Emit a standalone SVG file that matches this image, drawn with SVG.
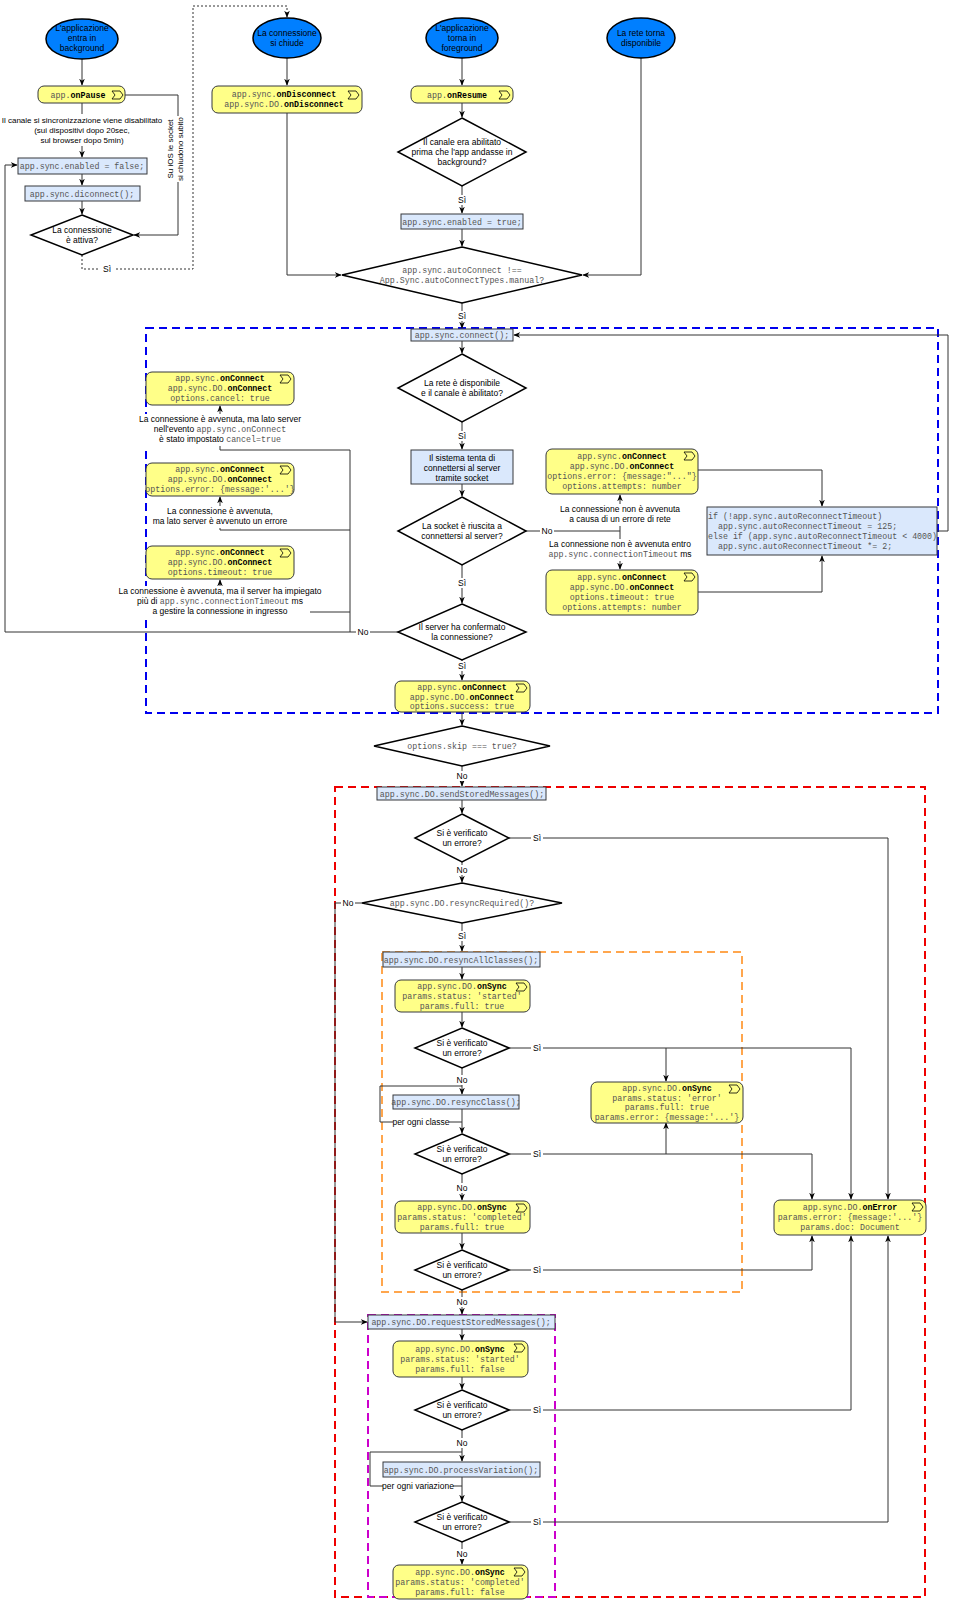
<svg xmlns="http://www.w3.org/2000/svg" width="956" height="1600" viewBox="0 0 956 1600">
<style>
.s{font-family:"Liberation Sans",Arial,sans-serif;font-size:8.5px;fill:#000}
.m{font-family:"Liberation Mono","Courier New",monospace;font-size:8.3px;fill:#555}
.b{font-weight:bold;fill:#000}
.y{fill:#ffff88;stroke:#36393d;stroke-width:1}
.bl{fill:#dae8fc;stroke:#36393d;stroke-width:1}
.el{fill:#007fff;stroke:#000;stroke-width:1.5}
.d{fill:#fff;stroke:#000;stroke-width:1.5}
.c{fill:none;stroke:#333;stroke-width:1}
.lb{fill:#fff}
</style>
<defs>
<marker id="a" viewBox="0 0 10 10" refX="9" refY="5" markerWidth="7" markerHeight="7" orient="auto"><path d="M0,1 L10,5 L0,9 L3,5z" fill="#000"/></marker>
<g id="ev"><path d="M0,0 h8 l3,4 l-3,4 h-8 l3,-4z" fill="none" stroke="#000" stroke-width="0.8"/></g>
</defs>
<rect width="956" height="1600" fill="#fff"/>
<rect x="146" y="328" width="792" height="385" fill="none" stroke="#0000ee" stroke-width="2" stroke-dasharray="8,5"/>
<rect x="335" y="787" width="590" height="810" fill="none" stroke="#ee0000" stroke-width="2" stroke-dasharray="8,5"/>
<rect x="382" y="952" width="360" height="340" fill="none" stroke="#ffa64d" stroke-width="2" stroke-dasharray="8,5"/>
<rect x="368" y="1315" width="187" height="282" fill="none" stroke="#cc00cc" stroke-width="2" stroke-dasharray="8,5"/>
<g id="connectors">
<path class="c" d="M82,59 V85" marker-end="url(#a)"/>
<path class="c" d="M82,103 V116 M82,145 V157" marker-end="url(#a)"/>
<path class="c" d="M82,174 V185" marker-end="url(#a)"/>
<path class="c" d="M82,201 V214" marker-end="url(#a)"/>
<path class="c" d="M125,95 H178 V235 H134" marker-end="url(#a)"/>
<path class="c" d="M82,255 V269 H193 V6 H287 V17" stroke-dasharray="2,2" marker-end="url(#a)"/>
<path class="c" d="M287,58 V85" marker-end="url(#a)"/>
<path class="c" d="M287,113 V275 H341" marker-end="url(#a)"/>
<path class="c" d="M641,58 V275 H583" marker-end="url(#a)"/>
<path class="c" d="M462,58 V85" marker-end="url(#a)"/>
<path class="c" d="M462,103 V117" marker-end="url(#a)"/>
<path class="c" d="M462,186 V213" marker-end="url(#a)"/>
<path class="c" d="M462,229 V246" marker-end="url(#a)"/>
<path class="c" d="M462,303 V328" marker-end="url(#a)"/>
<path class="c" d="M462,341 V353" marker-end="url(#a)"/>
<path class="c" d="M462,422 V449" marker-end="url(#a)"/>
<path class="c" d="M462,484 V496" marker-end="url(#a)"/>
<path class="c" d="M462,565 V603" marker-end="url(#a)"/>
<path class="c" d="M462,660 V680" marker-end="url(#a)"/>
<path class="c" d="M462,712 V725" marker-end="url(#a)"/>
<path class="c" d="M462,766 V786" marker-end="url(#a)"/>
<path class="c" d="M398,632 H5 V165 H17" marker-end="url(#a)"/>
<path class="c" d="M350,632 V450 H220 V406" marker-end="url(#a)"/>
<path class="c" d="M350,530 H220 V497" marker-end="url(#a)"/>
<path class="c" d="M350,612 H220 V580" marker-end="url(#a)"/>
<path class="c" d="M526,531 H620"/>
<path class="c" d="M620,517 V495" marker-end="url(#a)"/>
<path class="c" d="M620,555 V569" marker-end="url(#a)"/>
<path class="c" d="M620,505 V545"/>
<path class="c" d="M698,470 H822 V506" marker-end="url(#a)"/>
<path class="c" d="M698,592 H822 V556" marker-end="url(#a)"/>
<path class="c" d="M937,531 H948 V335 H514" marker-end="url(#a)"/>
<path class="c" d="M462,800 V813" marker-end="url(#a)"/>
<path class="c" d="M509,838 H888 V1199" marker-end="url(#a)"/>
<path class="c" d="M462,862 V882" marker-end="url(#a)"/>
<path class="c" d="M362,903 H335 V1322 H367" marker-end="url(#a)"/>
<path class="c" d="M462,923 V951" marker-end="url(#a)"/>
<path class="c" d="M462,967 V979" marker-end="url(#a)"/>
<path class="c" d="M462,1012 V1027" marker-end="url(#a)"/>
<path class="c" d="M509,1048 H851 V1199" marker-end="url(#a)"/>
<path class="c" d="M666,1048 V1081" marker-end="url(#a)"/>
<path class="c" d="M462,1068 V1094" marker-end="url(#a)"/>
<path class="c" d="M462,1109 V1122 H380 V1086 H462" />
<path class="c" d="M462,1122 V1133" marker-end="url(#a)"/>
<path class="c" d="M509,1154 H812 V1199" marker-end="url(#a)"/>
<path class="c" d="M666,1154 V1123" marker-end="url(#a)"/>
<path class="c" d="M462,1174 V1200" marker-end="url(#a)"/>
<path class="c" d="M462,1233 V1249" marker-end="url(#a)"/>
<path class="c" d="M509,1270 H812 V1236" marker-end="url(#a)"/>
<path class="c" d="M462,1290 V1314" marker-end="url(#a)"/>
<path class="c" d="M462,1329 V1340" marker-end="url(#a)"/>
<path class="c" d="M462,1377 V1389" marker-end="url(#a)"/>
<path class="c" d="M509,1410 H851 V1236" marker-end="url(#a)"/>
<path class="c" d="M462,1430 V1461" marker-end="url(#a)"/>
<path class="c" d="M462,1477 V1486 H370 V1452 H462"/>
<path class="c" d="M462,1486 V1501" marker-end="url(#a)"/>
<path class="c" d="M509,1522 H888 V1236" marker-end="url(#a)"/>
<path class="c" d="M462,1542 V1564" marker-end="url(#a)"/>
</g>
<g class="s" text-anchor="middle">
<rect class="lb" x="100" y="264" width="14" height="10"/><text x="107" y="272">Sì</text>
<rect class="lb" x="456" y="195" width="12" height="10"/><text x="462" y="203">Sì</text>
<rect class="lb" x="456" y="311" width="12" height="10"/><text x="462" y="319">Sì</text>
<rect class="lb" x="456" y="431" width="12" height="10"/><text x="462" y="439">Sì</text>
<rect class="lb" x="456" y="578" width="12" height="10"/><text x="462" y="586">Sì</text>
<rect class="lb" x="456" y="661" width="12" height="10"/><text x="462" y="669">Sì</text>
<rect class="lb" x="356" y="627" width="14" height="10"/><text x="363" y="635">No</text>
<rect class="lb" x="540" y="526" width="14" height="10"/><text x="547" y="534">No</text>
<rect class="lb" x="455" y="771" width="14" height="10"/><text x="462" y="779">No</text>
<rect class="lb" x="531" y="833" width="12" height="10"/><text x="537" y="841">Sì</text>
<rect class="lb" x="455" y="865" width="14" height="10"/><text x="462" y="873">No</text>
<rect class="lb" x="341" y="898" width="14" height="10"/><text x="348" y="906">No</text>
<rect class="lb" x="456" y="931" width="12" height="10"/><text x="462" y="939">Sì</text>
<rect class="lb" x="531" y="1043" width="12" height="10"/><text x="537" y="1051">Sì</text>
<rect class="lb" x="455" y="1075" width="14" height="10"/><text x="462" y="1083">No</text>
<rect class="lb" x="393" y="1117" width="56" height="10"/><text x="421" y="1125">per ogni classe</text>
<rect class="lb" x="531" y="1149" width="12" height="10"/><text x="537" y="1157">Sì</text>
<rect class="lb" x="455" y="1183" width="14" height="10"/><text x="462" y="1191">No</text>
<rect class="lb" x="531" y="1265" width="12" height="10"/><text x="537" y="1273">Sì</text>
<rect class="lb" x="455" y="1297" width="14" height="10"/><text x="462" y="1305">No</text>
<rect class="lb" x="531" y="1405" width="12" height="10"/><text x="537" y="1413">Sì</text>
<rect class="lb" x="455" y="1438" width="14" height="10"/><text x="462" y="1446">No</text>
<rect class="lb" x="383" y="1481" width="70" height="10"/><text x="418" y="1489">per ogni variazione</text>
<rect class="lb" x="531" y="1517" width="12" height="10"/><text x="537" y="1525">Sì</text>
<rect class="lb" x="455" y="1549" width="14" height="10"/><text x="462" y="1557">No</text>
<rect class="lb" x="0" y="114" width="164" height="32"/>
<text x="82" y="123" font-size="8">Il canale si sincronizzazione viene disabilitato</text>
<text x="82" y="133" font-size="8">(sui dispositivi dopo 20sec,</text>
<text x="82" y="143" font-size="8">sul browser dopo 5min)</text>
<rect class="lb" x="165" y="116" width="22" height="66"/>
<text font-size="8" transform="translate(173,149) rotate(-90)">Su iOS le socket</text>
<text font-size="8" transform="translate(183,149) rotate(-90)">si chiudono subito</text>
<rect class="lb" x="145" y="414" width="150" height="32"/>
<text x="220" y="422">La connessione è avvenuta, ma lato server</text>
<text x="220" y="432">nell'evento <tspan class="m">app.sync.onConnect</tspan></text>
<text x="220" y="442">è stato impostato <tspan class="m">cancel=true</tspan></text>
<rect class="lb" x="160" y="506" width="120" height="22"/>
<text x="220" y="514">La connessione è avvenuta,</text>
<text x="220" y="524">ma lato server è avvenuto un errore</text>
<rect class="lb" x="130" y="586" width="180" height="32"/>
<text x="220" y="594">La connessione è avvenuta, ma il server ha impiegato</text>
<text x="220" y="604">più di <tspan class="m">app.sync.connectionTimeout</tspan> ms</text>
<text x="220" y="614">a gestire la connessione in ingresso</text>
<rect class="lb" x="565" y="504" width="110" height="22"/>
<text x="620" y="512">La connessione non è avvenuta</text>
<text x="620" y="522">a causa di un errore di rete</text>
<rect class="lb" x="555" y="539" width="130" height="22"/>
<text x="620" y="547">La connessione non è avvenuta entro</text>
<text x="620" y="557"><tspan class="m">app.sync.connectionTimeout</tspan> ms</text>
</g>
<g id="n-bg"><ellipse class="el" cx="82" cy="39" rx="36" ry="20"/><text class="s" text-anchor="middle" x="82" y="31">L'applicazione<tspan x="82" dy="10">entra in</tspan><tspan x="82" dy="10">background</tspan></text></g>
<g id="n-close"><ellipse class="el" cx="287" cy="38" rx="34" ry="20"/><text class="s" text-anchor="middle" x="287" y="36">La connessione<tspan x="287" dy="10">si chiude</tspan></text></g>
<g id="n-fg"><ellipse class="el" cx="462" cy="38" rx="36" ry="20"/><text class="s" text-anchor="middle" x="462" y="31">L'applicazione<tspan x="462" dy="10">torna in</tspan><tspan x="462" dy="10">foreground</tspan></text></g>
<g id="n-net"><ellipse class="el" cx="641" cy="38" rx="34" ry="20"/><text class="s" text-anchor="middle" x="641" y="36">La rete torna<tspan x="641" dy="10">disponibile</tspan></text></g>
<g id="n-pause"><rect class="y" x="38" y="86" width="87" height="17" rx="6"/><text class="m" text-anchor="middle" x="78" y="97.5">app.<tspan class="b">onPause</tspan></text><use href="#ev" x="112" y="91"/></g>
<g id="n-disf"><rect class="bl" x="18" y="158" width="129" height="16"/><text class="m" text-anchor="middle" x="82" y="169">app.sync.enabled = false;</text></g>
<g id="n-disc"><rect class="bl" x="25" y="186" width="115" height="15"/><text class="m" text-anchor="middle" x="82" y="196.5">app.sync.diconnect();</text></g>
<g id="n-att"><polygon class="d" points="82,215 133,235 82,255 31,235"/><text class="s" text-anchor="middle" x="82" y="233">La connessione<tspan x="82" dy="10">è attiva?</tspan></text></g>
<g id="n-ondis"><rect class="y" x="212" y="86" width="150" height="27" rx="6"/><text class="m" text-anchor="middle" x="284" y="97">app.sync.<tspan class="b">onDisconnect</tspan><tspan x="284" dy="10">app.sync.DO.</tspan><tspan class="b">onDisconnect</tspan></text><use href="#ev" x="348" y="91"/></g>
<g id="n-res"><rect class="y" x="411" y="86" width="102" height="17" rx="6"/><text class="m" text-anchor="middle" x="457" y="97.5">app.<tspan class="b">onResume</tspan></text><use href="#ev" x="499" y="91"/></g>
<g id="n-era"><polygon class="d" points="462,118 526,152 462,186 398,152"/><text class="s" text-anchor="middle" x="462" y="145">Il canale era abilitato<tspan x="462" dy="10">prima che l'app andasse in</tspan><tspan x="462" dy="10">background?</tspan></text></g>
<g id="n-ent"><rect class="bl" x="401" y="214" width="122" height="15"/><text class="m" text-anchor="middle" x="462" y="224.5">app.sync.enabled = true;</text></g>
<g id="n-auto"><polygon class="d" points="462,247 582,275 462,303 342,275"/><text class="m" text-anchor="middle" x="462" y="273">app.sync.autoConnect !==<tspan x="462" dy="10">App.Sync.autoConnectTypes.manual?</tspan></text></g>
<g id="n-conn"><rect class="bl" x="411" y="329" width="102" height="12"/><text class="m" text-anchor="middle" x="462" y="338">app.sync.connect();</text></g>
<g id="n-rete"><polygon class="d" points="462,354 526,388 462,422 398,388"/><text class="s" text-anchor="middle" x="462" y="386">La rete è disponibile<tspan x="462" dy="10">e il canale è abilitato?</tspan></text></g>
<g id="n-tenta"><rect class="bl" x="411" y="450" width="102" height="34"/><text class="s" text-anchor="middle" x="462" y="461">Il sistema tenta di<tspan x="462" dy="10">connettersi al server</tspan><tspan x="462" dy="10">tramite socket</tspan></text></g>
<g id="n-sock"><polygon class="d" points="462,497 526,531 462,565 398,531"/><text class="s" text-anchor="middle" x="462" y="529">La socket è riuscita a<tspan x="462" dy="10">connettersi al server?</tspan></text></g>
<g id="n-conf"><polygon class="d" points="462,604 526,632 462,660 398,632"/><text class="s" text-anchor="middle" x="462" y="630">Il server ha confermato<tspan x="462" dy="10">la connessione?</tspan></text></g>
<g id="n-cancel"><rect class="y" x="146" y="372" width="148" height="33" rx="6"/><text class="m" text-anchor="middle" x="220" y="381">app.sync.<tspan class="b">onConnect</tspan><tspan x="220" dy="9.8">app.sync.DO.</tspan><tspan class="b">onConnect</tspan><tspan x="220" dy="9.8">options.cancel: true</tspan></text><use href="#ev" x="280" y="375"/></g>
<g id="n-srverr"><rect class="y" x="146" y="463" width="148" height="33" rx="6"/><text class="m" text-anchor="middle" x="220" y="472">app.sync.<tspan class="b">onConnect</tspan><tspan x="220" dy="9.8">app.sync.DO.</tspan><tspan class="b">onConnect</tspan><tspan x="220" dy="9.8">options.error: {message:'...'}</tspan></text><use href="#ev" x="280" y="466"/></g>
<g id="n-srvto"><rect class="y" x="146" y="546" width="148" height="33" rx="6"/><text class="m" text-anchor="middle" x="220" y="555">app.sync.<tspan class="b">onConnect</tspan><tspan x="220" dy="9.8">app.sync.DO.</tspan><tspan class="b">onConnect</tspan><tspan x="220" dy="9.8">options.timeout: true</tspan></text><use href="#ev" x="280" y="549"/></g>
<g id="n-neterr"><rect class="y" x="546" y="449" width="152" height="45" rx="6"/><text class="m" text-anchor="middle" x="622" y="459">app.sync.<tspan class="b">onConnect</tspan><tspan x="622" dy="10">app.sync.DO.</tspan><tspan class="b">onConnect</tspan><tspan x="622" dy="10">options.error: {message:"..."}</tspan><tspan x="622" dy="10">options.attempts: number</tspan></text><use href="#ev" x="684" y="452"/></g>
<g id="n-netto"><rect class="y" x="546" y="570" width="152" height="45" rx="6"/><text class="m" text-anchor="middle" x="622" y="580">app.sync.<tspan class="b">onConnect</tspan><tspan x="622" dy="10">app.sync.DO.</tspan><tspan class="b">onConnect</tspan><tspan x="622" dy="10">options.timeout: true</tspan><tspan x="622" dy="10">options.attempts: number</tspan></text><use href="#ev" x="684" y="573"/></g>
<g id="n-recon"><rect class="bl" x="707" y="507" width="230" height="48"/><text class="m" x="708" y="519" xml:space="preserve">if (!app.sync.autoReconnectTimeout)<tspan x="708" dy="10">  app.sync.autoReconnectTimeout = 125;</tspan><tspan x="708" dy="10">else if (app.sync.autoReconnectTimeout &lt; 4000)</tspan><tspan x="708" dy="10">  app.sync.autoReconnectTimeout *= 2;</tspan></text></g>
<g id="n-succ"><rect class="y" x="395" y="681" width="135" height="31" rx="6"/><text class="m" text-anchor="middle" x="462" y="690">app.sync.<tspan class="b">onConnect</tspan><tspan x="462" dy="9.5">app.sync.DO.</tspan><tspan class="b">onConnect</tspan><tspan x="462" dy="9.5">options.success: true</tspan></text><use href="#ev" x="516" y="684"/></g>
<g id="n-skip"><polygon class="d" points="462,726 550,746 462,766 374,746"/><text class="m" text-anchor="middle" x="462" y="749">options.skip === true?</text></g>
<g id="n-send"><rect class="bl" x="377" y="787" width="169" height="13"/><text class="m" text-anchor="middle" x="462" y="797">app.sync.DO.sendStoredMessages();</text></g>
<g id="n-e1"><polygon class="d" points="462,814 509,838 462,862 415,838"/><text class="s" text-anchor="middle" x="462" y="836">Si è verificato<tspan x="462" dy="10">un errore?</tspan></text></g>
<g id="n-rr"><polygon class="d" points="462,883 562,903 462,923 362,903"/><text class="m" text-anchor="middle" x="462" y="906">app.sync.DO.resyncRequired()?</text></g>
<g id="n-rall"><rect class="bl" x="383" y="952" width="157" height="15"/><text class="m" text-anchor="middle" x="461" y="962.5">app.sync.DO.resyncAllClasses();</text></g>
<g id="n-st1"><rect class="y" x="395" y="980" width="135" height="32" rx="6"/><text class="m" text-anchor="middle" x="462" y="989">app.sync.DO.<tspan class="b">onSync</tspan><tspan x="462" dy="10">params.status: 'started'</tspan><tspan x="462" dy="10">params.full: true</tspan></text><use href="#ev" x="516" y="983"/></g>
<g id="n-e2"><polygon class="d" points="462,1028 509,1048 462,1068 415,1048"/><text class="s" text-anchor="middle" x="462" y="1046">Si è verificato<tspan x="462" dy="10">un errore?</tspan></text></g>
<g id="n-rcl"><rect class="bl" x="393" y="1095" width="126" height="14"/><text class="m" text-anchor="middle" x="456" y="1105">app.sync.DO.resyncClass();</text></g>
<g id="n-e3"><polygon class="d" points="462,1134 509,1154 462,1174 415,1154"/><text class="s" text-anchor="middle" x="462" y="1152">Si è verificato<tspan x="462" dy="10">un errore?</tspan></text></g>
<g id="n-serr"><rect class="y" x="591" y="1082" width="152" height="41" rx="6"/><text class="m" text-anchor="middle" x="667" y="1091">app.sync.DO.<tspan class="b">onSync</tspan><tspan x="667" dy="9.7">params.status: 'error'</tspan><tspan x="667" dy="9.7">params.full: true</tspan><tspan x="667" dy="9.7">params.error: {message:'...'}</tspan></text><use href="#ev" x="729" y="1085"/></g>
<g id="n-comp1"><rect class="y" x="395" y="1201" width="135" height="32" rx="6"/><text class="m" text-anchor="middle" x="462" y="1210">app.sync.DO.<tspan class="b">onSync</tspan><tspan x="462" dy="10">params.status: 'completed'</tspan><tspan x="462" dy="10">params.full: true</tspan></text><use href="#ev" x="516" y="1204"/></g>
<g id="n-e4"><polygon class="d" points="462,1250 509,1270 462,1290 415,1270"/><text class="s" text-anchor="middle" x="462" y="1268">Si è verificato<tspan x="462" dy="10">un errore?</tspan></text></g>
<g id="n-onerr"><rect class="y" x="774" y="1200" width="152" height="35" rx="6"/><text class="m" text-anchor="middle" x="850" y="1210">app.sync.DO.<tspan class="b">onError</tspan><tspan x="850" dy="10">params.error: {message:'...'}</tspan><tspan x="850" dy="10">params.doc: Document</tspan></text><use href="#ev" x="912" y="1203"/></g>
<g id="n-req"><rect class="bl" x="368" y="1315" width="187" height="14"/><text class="m" text-anchor="middle" x="461" y="1325">app.sync.DO.requestStoredMessages();</text></g>
<g id="n-st2"><rect class="y" x="393" y="1341" width="135" height="36" rx="6"/><text class="m" text-anchor="middle" x="460" y="1352">app.sync.DO.<tspan class="b">onSync</tspan><tspan x="460" dy="10">params.status: 'started'</tspan><tspan x="460" dy="10">params.full: false</tspan></text><use href="#ev" x="514" y="1344"/></g>
<g id="n-e5"><polygon class="d" points="462,1390 509,1410 462,1430 415,1410"/><text class="s" text-anchor="middle" x="462" y="1408">Si è verificato<tspan x="462" dy="10">un errore?</tspan></text></g>
<g id="n-pv"><rect class="bl" x="383" y="1462" width="157" height="15"/><text class="m" text-anchor="middle" x="461" y="1472.5">app.sync.DO.processVariation();</text></g>
<g id="n-e6"><polygon class="d" points="462,1502 509,1522 462,1542 415,1522"/><text class="s" text-anchor="middle" x="462" y="1520">Si è verificato<tspan x="462" dy="10">un errore?</tspan></text></g>
<g id="n-comp2"><rect class="y" x="393" y="1565" width="135" height="34" rx="6"/><text class="m" text-anchor="middle" x="460" y="1575">app.sync.DO.<tspan class="b">onSync</tspan><tspan x="460" dy="10">params.status: 'completed'</tspan><tspan x="460" dy="10">params.full: false</tspan></text><use href="#ev" x="514" y="1568"/></g>
</svg>
